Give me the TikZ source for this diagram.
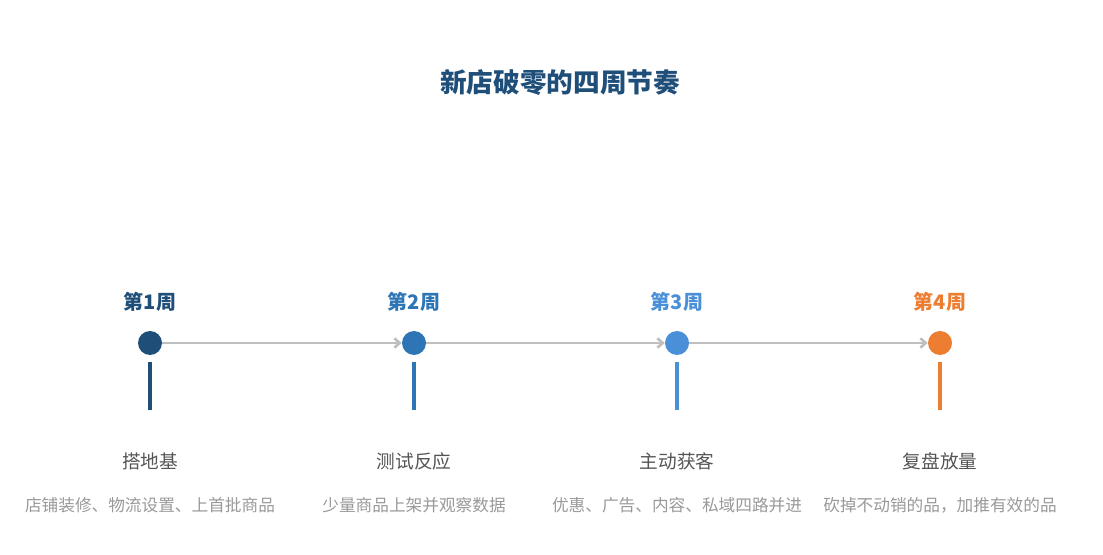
\documentclass[tikz,border=0pt]{standalone}
\usepackage{fontspec}
\setmainfont{Noto Sans CJK SC}
\usetikzlibrary{arrows.meta}
\definecolor{c1}{HTML}{1F4E79}
\definecolor{c2}{HTML}{2E75B6}
\definecolor{c3}{HTML}{4A90D9}
\definecolor{c4}{HTML}{ED7D31}
\definecolor{ln}{HTML}{BFBFBF}
\definecolor{tt}{HTML}{555555}
\definecolor{dd}{HTML}{999999}
\begin{document}
\begin{tikzpicture}[x=0.75pt,y=-0.75pt,
  dot/.style={circle,fill=#1,minimum size=18pt,inner sep=0},
  wk/.style={text=#1,font=\fontsize{15}{18}\selectfont\bfseries},
  bar/.style={draw=#1,line width=3pt},
  ttl/.style={text=tt,font=\fontsize{14}{17}\selectfont},
  dsc/.style={text=dd,font=\fontsize{12.5}{15}\selectfont},
  con/.style={draw=ln,line width=2pt,-{Straight Barb[length=4pt,width=7pt]}}]
\useasboundingbox (0,0) rectangle (1103,555);
\node[text=c1,font=\fontsize{20}{24}\selectfont\bfseries] (title) at (560,83) {新店破零的四周节奏};
\foreach \i/\x/\c/\t/\d in {1/150/c1/搭地基/{店铺装修、物流设置、上首批商品},2/414/c2/测试反应/{少量商品上架并观察数据},3/677/c3/主动获客/{优惠、广告、内容、私域四路并进},4/940/c4/复盘放量/{砍掉不动销的品，加推有效的品}}{
  \node[dot=\c] (n\i) at (\x,343) {};
  \node[wk=\c] (w\i) at (\x,302) {第\i 周};
  \coordinate (b\i) at (\x,362);
  \coordinate (e\i) at (\x,410);
  \draw[bar=\c] (b\i) -- (e\i);
  \node[ttl] (t\i) at (\x,461) {\t};
  \node[dsc] (d\i) at (\x,505) {\d};
}
\draw[con] (n1) -- (n2);
\draw[con] (n2) -- (n3);
\draw[con] (n3) -- (n4);
\end{tikzpicture}
\end{document}
